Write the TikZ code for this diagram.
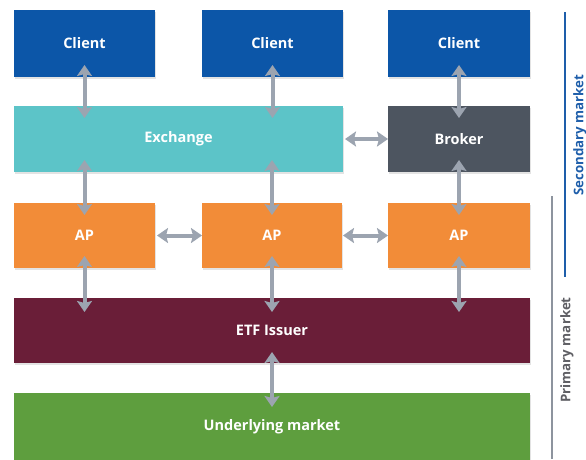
\documentclass[tikz,border=0pt]{standalone}
\usepackage{fontspec}
\setmainfont{Open Sans}
\usetikzlibrary{arrows.meta,shadows}

\definecolor{clientblue}{RGB}{12,86,168}
\definecolor{exchteal}{RGB}{92,196,200}
\definecolor{brokerslate}{RGB}{77,85,96}
\definecolor{aporange}{RGB}{242,140,56}
\definecolor{issuermaroon}{RGB}{106,30,56}
\definecolor{marketgreen}{RGB}{94,158,62}
\definecolor{arrowgray}{RGB}{156,164,176}
\definecolor{secblue}{RGB}{30,94,170}
\definecolor{primgray}{RGB}{95,95,100}

\tikzset{
  box/.style={anchor=north west, inner sep=0pt, outer sep=0pt,
    text=white, font=\bfseries\fontsize{14.5}{16}\selectfont,
    drop shadow={opacity=0.22, shadow xshift=1pt, shadow yshift=-1.5pt}},
  link/.style={draw=arrowgray, line width=4pt,
    {Stealth[length=11pt,width=15pt,inset=2pt]}-{Stealth[length=11pt,width=15pt,inset=2pt]}},
  sidelabel/.style={rotate=90, font=\bfseries\fontsize{13.3}{15}\selectfont},
}

\begin{document}
\begin{tikzpicture}[x=1pt, y=-1pt]
  \useasboundingbox (0,0) rectangle (586,459);

  % top row: clients
  \node[box, fill=clientblue, minimum width=141pt, minimum height=67pt] (c1) at (14,10) {Client};
  \node[box, fill=clientblue, minimum width=141pt, minimum height=67pt] (c2) at (202,10) {Client};
  \node[box, fill=clientblue, minimum width=142pt, minimum height=67pt] (c3) at (388,10) {Client};

  % second row: exchange and broker
  \node[box, fill=exchteal, minimum width=329pt, minimum height=66pt] (ex) at (14,106) {Exchange};
  \node[box, fill=brokerslate, minimum width=142pt, minimum height=66pt] (br) at (388,106) {Broker};

  % third row: authorised participants
  \node[box, fill=aporange, minimum width=141pt, minimum height=65pt] (ap1) at (14,203) {AP};
  \node[box, fill=aporange, minimum width=140pt, minimum height=65pt] (ap2) at (202,203) {AP};
  \node[box, fill=aporange, minimum width=142pt, minimum height=65pt] (ap3) at (388,203) {AP};

  % issuer and underlying market
  \node[box, fill=issuermaroon, minimum width=516pt, minimum height=65pt] (etf) at (14,298) {ETF Issuer};
  \node[box, fill=marketgreen, minimum width=516pt, minimum height=68pt] (um) at (14,393) {Underlying market};

  % vertical two-way arrows, tips reaching into the boxes
  \draw[link] ([yshift=12pt]c1.south)  -- ([yshift=-12pt]c1.south |- ex.north);
  \draw[link] ([yshift=12pt]c2.south)  -- ([yshift=-12pt]c2.south |- ex.north);
  \draw[link] ([yshift=12pt]c3.south)  -- ([yshift=-12pt]br.north);

  \draw[link] ([yshift=12pt]ap1.north |- ex.south) -- ([yshift=-12pt]ap1.north);
  \draw[link] ([yshift=12pt]ap2.north |- ex.south) -- ([yshift=-12pt]ap2.north);
  \draw[link] ([yshift=12pt]br.south) -- ([yshift=-12pt]ap3.north);

  \draw[link] ([yshift=12pt]ap1.south) -- ([yshift=-14pt]ap1.south |- etf.north);
  \draw[link] ([yshift=12pt]ap2.south) -- ([yshift=-14pt]ap2.south |- etf.north);
  \draw[link] ([yshift=12pt]ap3.south) -- ([yshift=-14pt]ap3.south |- etf.north);

  \draw[link] ([yshift=11pt]ap2.south |- etf.south) -- ([yshift=-14pt]ap2.south |- um.north);

  % horizontal two-way arrows between neighbouring boxes
  \draw[link] ([xshift=2pt]ex.east) -- (br.west);
  \draw[link] ([xshift=2pt]ap1.east) -- (ap2.west);
  \draw[link] ([xshift=1pt]ap2.east) -- (ap3.west);

  % market brackets on the right
  \coordinate (sectop) at (565,12);
  \coordinate (secbot) at (565,277);
  \coordinate (primtop) at (552,196);
  \coordinate (primbot) at (552,459);
  \draw[secblue, line width=2.6pt] (sectop) -- (secbot);
  \draw[arrowgray!90!black, line width=2.6pt] (primtop) -- (primbot);
  \node[sidelabel, text=secblue] (seclab) at (580,135) {Secondary market};
  \node[sidelabel, text=primgray] (primlab) at (567,350) {Primary market};
\end{tikzpicture}
\end{document}
